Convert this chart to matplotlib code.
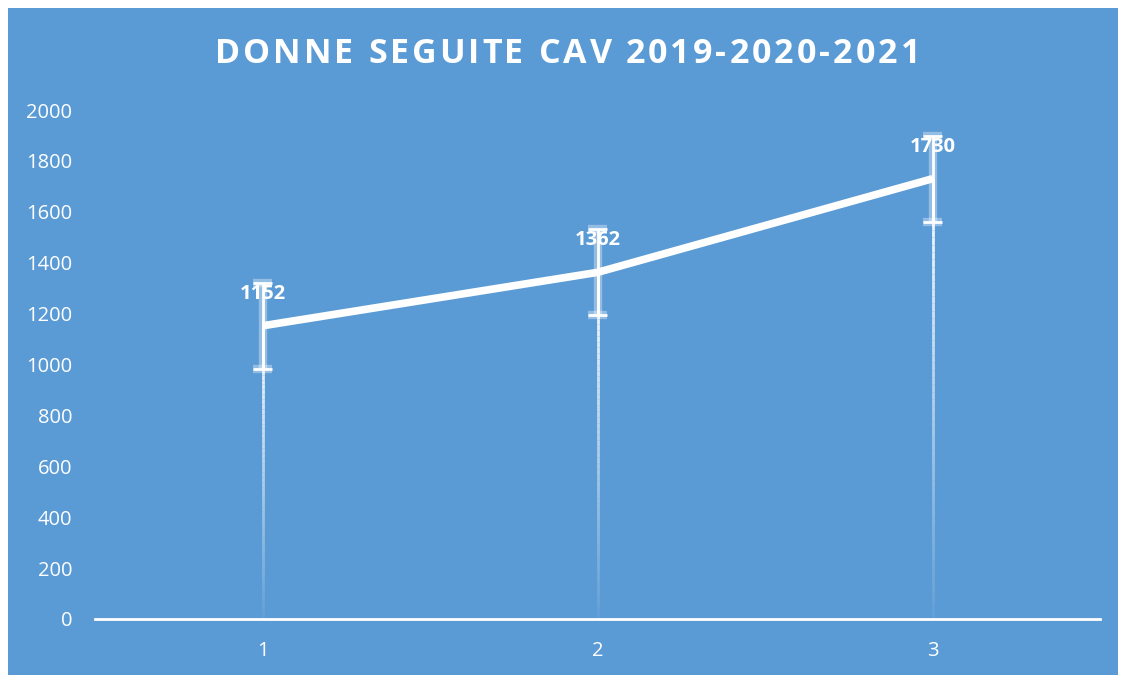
import matplotlib
matplotlib.use("Agg")
import matplotlib.pyplot as plt
import matplotlib.patheffects as pe
from matplotlib.collections import LineCollection
from matplotlib.font_manager import FontProperties
import numpy as np

plt.rcParams['font.family'] = ['Open Sans', 'DejaVu Sans']

categories = [1, 2, 3]
values = [1152, 1362, 1730]
errors = [169, 169, 169]
yticks = [0, 200, 400, 600, 800, 1000, 1200, 1400, 1600, 1800, 2000]
title = "DONNE SEGUITE CAV 2019-2020-2021"

BLUE = "#5B9BD5"
W, H = 1124, 677
fig = plt.figure(figsize=(W/100, H/100), dpi=100, facecolor="white")

bg = fig.add_axes([8/W, 2/H, (1118-8)/W, (675-8)/H], zorder=-5)
bg.set_facecolor(BLUE)
bg.set_xticks([]); bg.set_yticks([])
for s in bg.spines.values():
    s.set_visible(False)

ax = fig.add_axes([95/W, (H-619)/H, (1100-95)/W, (619-110)/H], zorder=1)
ax.set_facecolor("none")
ax.set_xlim(0.5, 3.5)
ax.set_ylim(0, 2000)
for s in ["top", "right", "left"]:
    ax.spines[s].set_visible(False)
ax.spines["bottom"].set_color("white")
ax.spines["bottom"].set_linewidth(2)
ax.set_yticks(yticks)
ax.set_yticklabels([str(t) for t in yticks])
ax.set_xticks(categories)
ax.set_xticklabels([str(c) for c in categories])
ax.tick_params(axis="both", length=0, colors="white", labelsize=14.5)
ax.tick_params(axis="y", pad=16.5)
ax.tick_params(axis="x", pad=16)

# drop lines with fading gradient
for x, v in zip(categories, values):
    n = 60
    ys = np.linspace(0, v, n + 1)
    segs = [[(x, ys[i]), (x, ys[i+1])] for i in range(n)]
    alphas = np.linspace(0.05, 1.0, n)
    cols = [(1, 1, 1, a) for a in alphas]
    ax.add_collection(LineCollection(segs, colors=cols, linewidths=2, zorder=2))

# error bars with glow
eb = ax.errorbar(categories, values, yerr=errors, fmt="none", ecolor="white",
                 elinewidth=2, capsize=7, capthick=2, zorder=3)
for art in list(eb[1]) + list(eb[2]):
    art.set_path_effects([pe.Stroke(linewidth=6, foreground=(1, 1, 1, 0.35)), pe.Normal()])

ax.plot(categories, values, color="white", linewidth=5.5, solid_capstyle="butt", zorder=4)

for x, v in zip(categories, values):
    ax.annotate(str(v), (x, v), xytext=(0, 23), textcoords="offset points",
                ha="center", va="center", color="white", fontsize=14.5, fontweight="bold", zorder=5)

# title with letter spacing
fp = FontProperties(family="Open Sans", weight="bold", size=24.5)
renderer = fig.canvas.get_renderer()

def text_w(s):
    t = fig.text(0, 0, s, fontproperties=fp)
    w = t.get_window_extent(renderer=renderer).width
    t.remove()
    return w

ref_w = text_w("x")
offsets = [0.0] + [text_w(title[:i] + "x") - ref_w for i in range(1, len(title) + 1)]
target_left, target_right = 215, 920
natural = offsets[len(title)]
spacing = (target_right - target_left - natural) / (len(title) - 1)
for i, ch in enumerate(title):
    if ch == " ":
        continue
    xpix = target_left + offsets[i] + spacing * i
    fig.text(xpix / W, (H - 54) / H, ch, ha="left", va="center", color="white",
             fontproperties=fp)

fig.savefig("out.png", dpi=100, facecolor="white")
